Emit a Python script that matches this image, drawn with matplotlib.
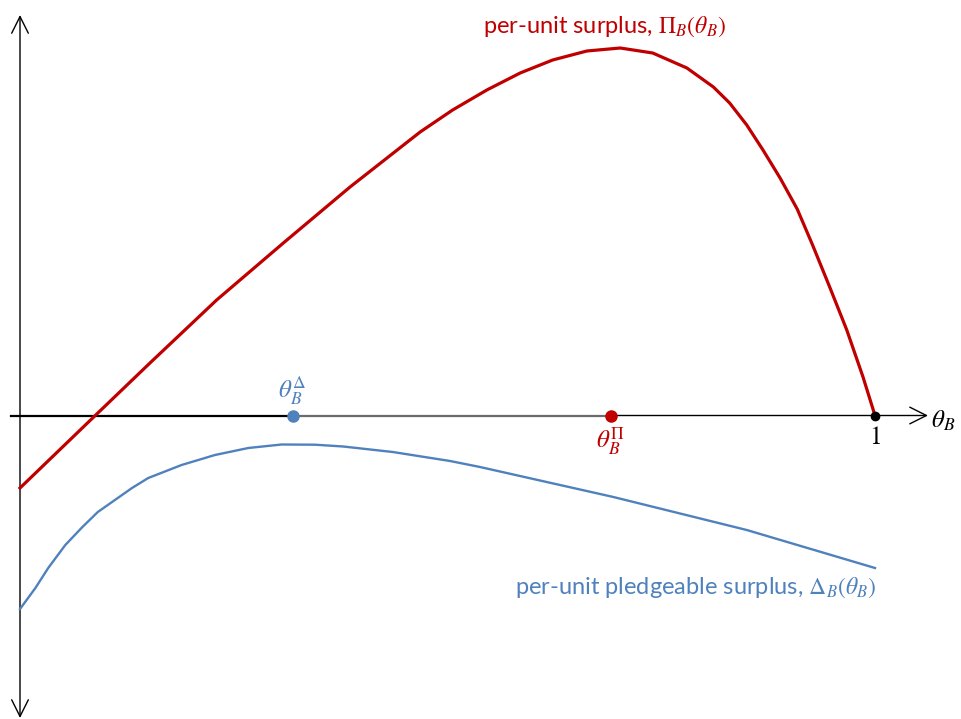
import matplotlib

matplotlib.use("Agg")
import matplotlib.pyplot as plt

plt.rcParams["font.family"] = ["Lato", "DejaVu Sans"]
plt.rcParams["mathtext.fontset"] = "stix"

RED = "#C00000"
BLUE = "#4F81BD"

# per-unit surplus Pi_B(theta_B)
theta_pi = [0.000, 0.088, 0.152, 0.230, 0.308, 0.386, 0.468, 0.506, 0.546,
            0.585, 0.623, 0.663, 0.702, 0.740, 0.780, 0.811, 0.830, 0.850,
            0.869, 0.889, 0.909, 0.927, 0.947, 0.967, 0.986, 1.000]
surplus_pi = [-0.725, 0.0, 0.525, 1.155, 1.725, 2.285, 2.835, 3.055, 3.255,
              3.425, 3.555, 3.645, 3.675, 3.625, 3.475, 3.285, 3.125, 2.905,
              2.655, 2.375, 2.065, 1.705, 1.285, 0.855, 0.385, 0.0]

# per-unit pledgeable surplus Delta_B(theta_B)
theta_delta = [0.000, 0.018, 0.033, 0.053, 0.073, 0.091, 0.111, 0.131, 0.150,
               0.189, 0.228, 0.267, 0.306, 0.345, 0.378, 0.436, 0.503, 0.538,
               0.694, 0.850, 1.000]
surplus_delta = [-1.935, -1.725, -1.525, -1.295, -1.115, -0.965, -0.845,
                 -0.725, -0.625, -0.495, -0.395, -0.325, -0.290, -0.292,
                 -0.310, -0.365, -0.455, -0.515, -0.815, -1.145, -1.525]

# marked points on the theta axis
theta_star_delta = 0.319
theta_star_pi = 0.691
theta_end = 1.0

fig = plt.figure(figsize=(9.61, 7.19), dpi=100)
ax = fig.add_axes([0, 0, 1, 1])
ax.set_xlim(-0.0234, 1.1006)
ax.set_ylim(-3.035, 4.155)
ax.axis("off")

# axes with open arrow heads
arrow = dict(arrowstyle="->", lw=1.0, color="black", mutation_scale=30,
             shrinkA=0, shrinkB=0)
ax.annotate("", xy=(1.062, 0), xytext=(theta_star_pi, 0), arrowprops=arrow)
ax.annotate("", xy=(0, 4.005), xytext=(0, 0), arrowprops=arrow)
ax.annotate("", xy=(0, -3.025), xytext=(0, 0), arrowprops=arrow)
ax.plot([-0.0105, theta_star_delta], [0, 0], color="black", lw=1.6, zorder=2)
ax.plot([theta_star_delta, theta_star_pi], [0, 0], color="#6b6b6b", lw=1.6,
        zorder=2)

ax.plot(theta_pi, surplus_pi, color=RED, lw=2.3, zorder=3,
        solid_joinstyle="round")
ax.plot(theta_delta, surplus_delta, color=BLUE, lw=1.7, zorder=3,
        solid_joinstyle="round")

ax.plot([theta_star_delta], [0], "o", color=BLUE, ms=8, zorder=4)
ax.plot([theta_star_pi], [0], "o", color=RED, ms=8, zorder=4)
ax.plot([theta_end], [0], "o", color="black", ms=6, zorder=4)

ax.text(0.5415, 3.885, r"per-unit surplus, $\Pi_B(\theta_B)$", color=RED,
        fontsize=17, ha="left", va="center")
ax.text(0.579, -1.725, r"per-unit pledgeable surplus, $\Delta_B(\theta_B)$",
        color=BLUE, fontsize=17, ha="left", va="center")
ax.text(theta_star_delta, 0.10, r"$\theta_B^{\Delta}$", color=BLUE,
        fontsize=18, ha="center", va="bottom")
ax.text(theta_star_pi, -0.10, r"$\theta_B^{\Pi}$", color=RED,
        fontsize=18, ha="center", va="top")
ax.text(theta_end, -0.10, "1", color="black", fontsize=18, ha="center",
        va="top", family="STIXGeneral")
ax.text(1.066, -0.05, r"$\theta_B$", color="black", fontsize=18, ha="left",
        va="center")

fig.savefig("out.png", dpi=100, facecolor="white")
